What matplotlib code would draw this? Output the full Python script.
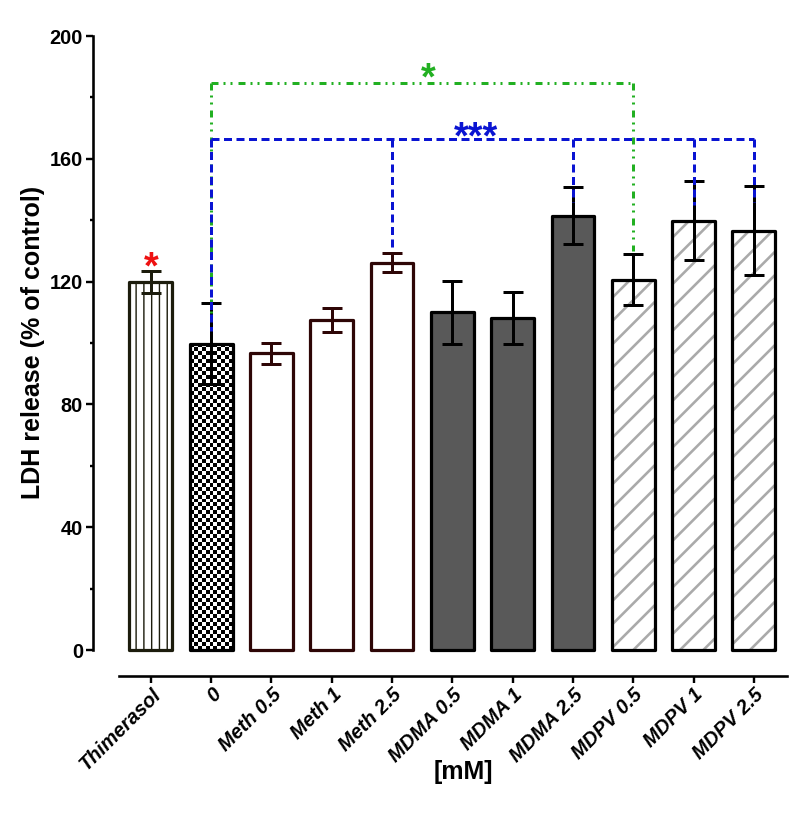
import numpy as np
import matplotlib
matplotlib.use('Agg')
import matplotlib.pyplot as plt
from matplotlib.transforms import offset_copy

# ---------------- data ----------------
categories = ['Thimerasol', '0', 'Meth 0.5', 'Meth 1', 'Meth 2.5',
              'MDMA 0.5', 'MDMA 1', 'MDMA 2.5', 'MDPV 0.5', 'MDPV 1', 'MDPV 2.5']
means = [119.9, 99.8, 96.7, 107.5, 126.2, 110.0, 108.1, 141.5, 120.6, 139.8, 136.6]
errors = [3.6, 13.3, 3.4, 4.0, 3.0, 10.3, 8.5, 9.2, 8.3, 12.9, 14.5]
groups = ['thim', 'ctrl', 'meth', 'meth', 'meth', 'mdma', 'mdma', 'mdma', 'mdpv', 'mdpv', 'mdpv']
y_ticks = [0, 40, 80, 120, 160, 200]
y_label = 'LDH release (% of control)'
x_label = '[mM]'

# significance brackets (bar indices, bracket level, drop end values)
green_idx = [1, 8]
green_level = 184.7
green_drop = [106, 130]
green_text = '*'
blue_idx = [1, 4, 7, 9, 10]
blue_level = 166.4
blue_drop = [104, 131, 146, 145, 146]
blue_text = '***'
red_idx = 0
red_level = 128.0
red_text = '*'

# ---------------- styling ----------------
DPI = 140
W, H = 800, 827


def P(px):
    return px * 72.0 / DPI


plt.rcParams['font.family'] = ['Liberation Sans', 'DejaVu Sans']
plt.rcParams['font.weight'] = 'bold'
plt.rcParams['lines.scale_dashes'] = False

fig = plt.figure(figsize=(W / DPI, H / DPI), dpi=DPI)
ax_l, ax_r, ax_b, ax_t = 93, 787, 650, 36
ax = fig.add_axes([ax_l / W, (H - ax_b) / H, (ax_r - ax_l) / W, (ax_b - ax_t) / H])

x = np.arange(len(categories))
ax.set_xlim(-0.96, 10.55)
ax.set_ylim(0, 200)

edge_lw = P(3.2)
styles = {
    'thim': dict(fc='white', ec='#1c1c0c', hatch='|||', hc='#1c1c0c', hlw=P(1.4), err='#1c1c0c'),
    'ctrl': dict(fc='white', ec='black', hatch=None, hc=None, hlw=None, err='black'),
    'meth': dict(fc='white', ec='#2e0606', hatch=None, hc=None, hlw=None, err='#2e0606'),
    'mdma': dict(fc='#595959', ec='black', hatch=None, hc=None, hlw=None, err='black'),
    'mdpv': dict(fc='white', ec='black', hatch='//', hc='#aaaaaa', hlw=P(2.6), err='black'),
}
width = 0.71

for i in range(len(categories)):
    st = styles[groups[i]]
    if st['hatch']:
        with plt.rc_context({'hatch.linewidth': st['hlw']}):
            hb = ax.bar(x[i], means[i], width=width, color=st['fc'], edgecolor=st['hc'],
                        hatch=st['hatch'], linewidth=0, zorder=2)
        for p in hb:
            if hasattr(p, 'set_hatch_linewidth'):
                p.set_hatch_linewidth(st['hlw'])
    else:
        ax.bar(x[i], means[i], width=width, color=st['fc'], linewidth=0, zorder=2)
    ob = ax.bar(x[i], means[i], width=width, facecolor='none', edgecolor=st['ec'],
                linewidth=edge_lw, zorder=3, clip_on=False)
    for p in ob:
        p.set_joinstyle('round')
    if groups[i] == 'ctrl':
        b = ob[0]
        x0, y0, bw, bh = b.get_x(), b.get_y(), b.get_width(), b.get_height()
        p0 = ax.transData.transform((x0, y0))
        p1 = ax.transData.transform((x0 + bw, y0 + bh))
        cell = 4.0
        nx = int(round((p1[0] - p0[0]) / cell))
        ny = int(round((p1[1] - p0[1]) / cell))
        board = np.add.outer(np.arange(ny), np.arange(nx)) % 2
        im = ax.imshow(board, cmap='gray', extent=(x0, x0 + bw, y0, y0 + bh), origin='lower',
                       aspect='auto', interpolation='nearest', zorder=2.5)
        im.set_clip_path(b)
    ax.errorbar(x[i], means[i], yerr=errors[i], fmt='none', ecolor=st['err'],
                elinewidth=P(3), capsize=P(10), capthick=P(3), zorder=4)

ax.set_xlim(-0.96, 10.55)
ax.set_ylim(0, 200)

# brackets
blue_ls = (0, (P(8), P(4.5)))
green_ls = (0, (P(7), P(5), P(2), P(5), P(2), P(6)))


def bracket(idx, level, drops, color, ls, lw):
    ax.plot([min(idx), max(idx)], [level, level], color=color, linestyle=ls, lw=lw,
            zorder=5, clip_on=False, solid_capstyle='butt', dash_capstyle='butt')
    for xi, d in zip(idx, drops):
        ax.plot([xi, xi], [level, d], color=color, linestyle=ls, lw=lw, zorder=5,
                clip_on=False, dash_capstyle='butt')


bracket(green_idx, green_level, green_drop, '#22b022', green_ls, P(3))
bracket(blue_idx, blue_level, blue_drop, '#0a14d2', blue_ls, P(3))

star_px = 38
star_off = offset_copy(ax.transData, fig, y=-P(0.56 * star_px), units='points')
ax.text((min(green_idx) + max(green_idx)) / 2 + 0.1, green_level + 4.7, green_text, color='#22b022',
        fontsize=P(star_px), ha='center', va='baseline', transform=star_off)
ax.text((min(blue_idx) + max(blue_idx)) / 2 - 0.1, blue_level + 4.0, blue_text, color='#0a14d2',
        fontsize=P(star_px), ha='center', va='baseline', transform=star_off)
ax.text(red_idx, red_level, red_text, color='#ee1111',
        fontsize=P(star_px), ha='center', va='baseline', transform=star_off)

# axes styling
for s in ['top', 'right']:
    ax.spines[s].set_visible(False)
ax.spines['left'].set_linewidth(P(2.6))
ax.spines['bottom'].set_linewidth(P(2.6))
ax.spines['left'].set_bounds(0, 200)
ax.spines['bottom'].set_position(('outward', P(26)))
ax.spines['bottom'].set_bounds(-0.53, 10.55)

ax.set_yticks(y_ticks)
ax.set_yticks([v + 20 for v in y_ticks[:-1]], minor=True)
ax.tick_params(axis='y', which='major', length=P(7), width=P(2.4), pad=P(3), labelsize=P(20))
ax.tick_params(axis='y', which='minor', length=P(3.5), width=P(2.4))
ax.set_xticks(x)
ax.set_xticklabels(categories, rotation=45, ha='right', va='top', rotation_mode='anchor',
                   fontstyle='italic', fontsize=P(20))
ax.tick_params(axis='x', which='major', length=P(7), width=P(2.4), pad=P(2))

fig.text(33 / W, 1 - 342 / H, y_label, rotation=90, ha='center', va='center', fontsize=P(25))
fig.text(463 / W, 1 - 772 / H, x_label, ha='center', va='center', fontsize=P(25))

fig.savefig('out.png', dpi=DPI)
